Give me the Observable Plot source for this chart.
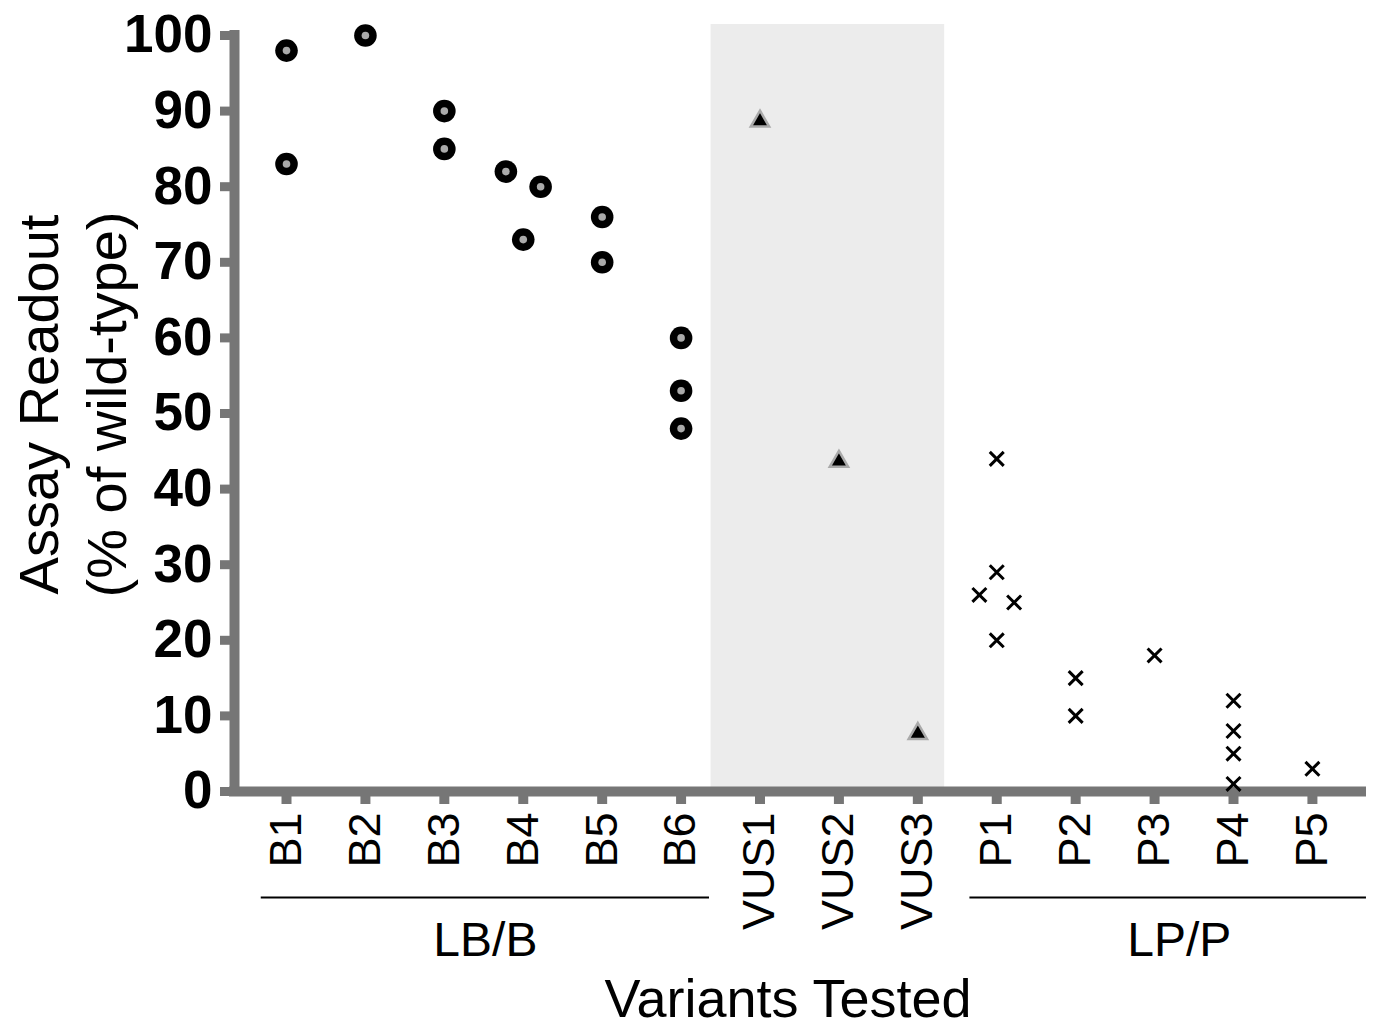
<!DOCTYPE html>
<html><head><meta charset="utf-8">
<script src="https://cdn.jsdelivr.net/npm/d3@7"></script>
<script src="https://cdn.jsdelivr.net/npm/@observablehq/plot@0.6"></script>
<style>html,body{margin:0;padding:0;background:#fff;} #chart svg{display:block}</style>
</head><body><div id="chart"></div>
<script>
// ---- data ----
const categories = ["B1","B2","B3","B4","B5","B6","VUS1","VUS2","VUS3","P1","P2","P3","P4","P5"];
const yTicks = [0,10,20,30,40,50,60,70,80,90,100];

const benignCategory = ["B1","B1","B2","B3","B3","B4","B4","B4","B5","B5","B6","B6","B6"];
const benignValue    = [98,83,100,90,85,82,80,73,76,70,60,53,48];
const benignSide     = [0,0,0,0,0,-1,1,0,0,0,0,0,0];

const vusCategory = ["VUS1","VUS2","VUS3"];
const vusValue    = [89,44,8];

const pathCategory = ["P1","P1","P1","P1","P1","P2","P2","P3","P4","P4","P4","P4","P5"];
const pathValue    = [44,29,26,25,20,15,10,18,12,8,5,1,3];
const pathSide     = [0,0,-1,1,0,0,0,0,0,0,0,0,0];

const groupNames = ["LB/B","LP/P"];
const groupFirst = ["B1","P1"];
const groupLast  = ["B6","P5"];
const yTitle1 = "Assay Readout";
const yTitle2 = "(% of wild-type)";
const xTitle = "Variants Tested";

// ---- layout / style ----
const JIT = 0.22;
const idx = c => categories.indexOf(c);
const xDomain = [-0.659, 13.622];
const gray = "#767676";
const font = "'Liberation Sans', Arial, Helvetica, sans-serif";

const benign = benignValue.map((v,i)=>({x: idx(benignCategory[i]) + benignSide[i]*JIT, y: v}));
const vus = vusValue.map((v,i)=>({x: idx(vusCategory[i]), y: v}));
const path = pathValue.map((v,i)=>({x: idx(pathCategory[i]) + pathSide[i]*JIT, y: v}));

const padL = [0.32, 0.34], padR = [0.36, 0.685], labShift = [0, 0.14];
const groups = groupNames.map((g,i)=>{
  const a = idx(groupFirst[i]) - padL[i], b = idx(groupLast[i]) + padR[i];
  return {name: g, x1: a, x2: b, cx: (a+b)/2 + labShift[i]};
});
const band = [{x1: idx("VUS1") - 0.62, x2: idx("VUS3") + 0.34}];

const chart = Plot.plot({
  width: 1382, height: 1026,
  marginLeft: 234, marginRight: 21, marginTop: 35, marginBottom: 235,
  style: {fontFamily: font, background: "#fff", overflow: "visible"},
  x: {type: "linear", domain: xDomain},
  y: {domain: [0, 100]},
  marks: [
    Plot.rect(band, {x1: "x1", x2: "x2", y1: () => 0, y2: () => 100, fill: "#ececec", insetTop: -11}),
    Plot.axisY(yTicks, {tickSize: 14, tickPadding: 8, strokeWidth: 9, stroke: gray, fill: "black",
      fontSize: 53, fontWeight: "bold", label: null}),
    Plot.axisX(d3.range(categories.length), {tickSize: 13, tickPadding: 8, strokeWidth: 10, stroke: gray, fill: "black",
      fontSize: 45, tickRotate: -90, tickFormat: i => categories[i], label: null}),
    Plot.ruleX([xDomain[0]], {stroke: gray, strokeWidth: 10, strokeLinecap: "square"}),
    Plot.ruleY([0], {stroke: gray, strokeWidth: 10, strokeLinecap: "square"}),
    Plot.ruleY(groups, {y: () => 0, x1: "x1", x2: "x2", dy: 106, stroke: "black", strokeWidth: 1.8}),
    Plot.text(groups, {x: "cx", text: "name", frameAnchor: "bottom", dy: 164, lineAnchor: "bottom", fontSize: 48, fill: "black"}),
    Plot.text([xTitle], {frameAnchor: "bottom", textAnchor: "middle", dy: 225, dx: -10, lineAnchor: "bottom", fontSize: 54, fill: "black"}),
    Plot.text([yTitle1], {frameAnchor: "left", textAnchor: "middle", rotate: -90, dx: -177, dy: -9, lineAnchor: "bottom", fontSize: 56, fill: "black"}),
    Plot.text([yTitle2], {frameAnchor: "left", textAnchor: "middle", rotate: -90, dx: -109, dy: -9, lineAnchor: "bottom", fontSize: 56, fill: "black"}),
    Plot.dot(benign, {x: "x", y: "y", r: 11.3, fill: "black", stroke: "none"}),
    Plot.dot(benign, {x: "x", y: "y", r: 3.8, fill: "#aaaaaa", stroke: "none"}),
    Plot.dot(vus, {x: "x", y: "y", symbol: "triangle", r: 6.8, fill: "black", stroke: "#aaaaaa", strokeWidth: 2.5, dy: 2.65}),
    Plot.dot(path, {x: "x", y: "y", symbol: "times", r: 6.4, stroke: "black", strokeWidth: 3})
  ]
});
document.getElementById("chart").appendChild(chart);
</script>
</body></html>
